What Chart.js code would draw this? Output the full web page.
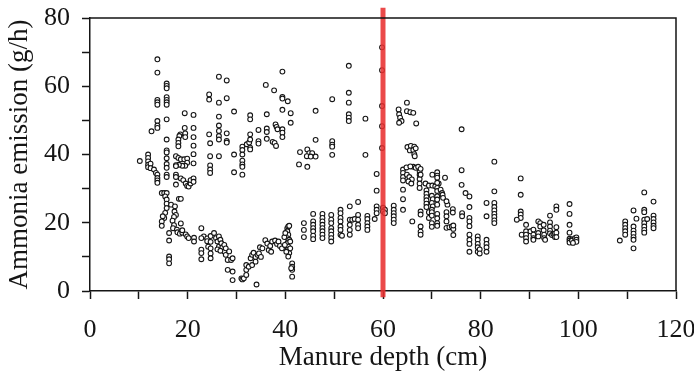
<!DOCTYPE html>
<html>
<head>
<meta charset="utf-8">
<script src="https://cdn.jsdelivr.net/npm/chart.js@4.4.1/dist/chart.umd.min.js"></script>
<style>
	html, body { margin: 0; padding: 0; background: #fff; }
</style>
</head>
<body>
<canvas id="emission-chart" width="694" height="376"></canvas>
<script>
// [manure depth (cm), ammonia emission (g/h)], grouped by depth
const under25cm = [
	[13.8,67.9],[13.8,64.0],[15.7,60.8],[15.7,60.1],[15.7,59.4],[13.8,56.0],[13.8,55.3],[13.8,54.6],
	[15.7,56.8],[15.7,56.0],[15.7,55.3],[15.7,54.6],[13.8,49.8],[15.7,50.3],[12.6,46.8],[13.8,48.5],
	[13.8,47.8],[15.7,44.4],[15.7,41.2],[15.7,40.6],[10.2,38.1],[11.9,40.0],[11.9,39.0],[11.9,38.0],
	[11.9,37.0],[11.9,36.3],[12.4,37.3],[12.4,36.0],[15.7,38.9],[15.7,37.2],[13.1,35.6],[13.5,34.6],
	[13.8,34.1],[13.8,33.1],[13.8,32.4],[13.8,31.7],[15.7,36.1],[15.7,34.1],[15.7,33.4],
	[14.7,28.7],[15.2,28.7],[15.7,28.7],[15.4,27.7],[15.7,26.8],[15.7,25.6],[15.7,24.3],[15.4,22.9],
	[15.2,21.4],[14.7,20.4],[14.7,19.1],[14.9,21.9],[16.6,25.3],[18.2,27.0],[18.6,27.0],[17.4,24.8],
	[17.3,23.3],[17.6,22.3],[17.2,21.7],[16.9,20.6],[17.2,19.3],[17.0,18.4],[16.2,17.0],[16.2,14.8],
	[17.8,18.0],[17.9,17.2],[18.4,16.8],[18.9,17.1],[19.6,16.6],[19.9,16.0],[20.2,15.5],[18.9,17.8],
	[18.6,19.8],[21.3,15.6],[21.3,14.5],[22.8,18.4],[23.3,16.0],[24.0,15.4],[24.0,14.6],[22.8,15.5],
	[22.8,12.1],[24.2,13.0],[24.7,16.1],[24.7,14.4],[24.7,12.5],[24.7,11.0],[24.7,9.6],[22.8,11.1],
	[22.8,9.3],[16.2,10.1],[16.2,9.3],[16.2,8.1],
	[19.4,52.1],[21.2,51.6],[19.4,47.8],[21.2,47.8],[18.5,45.9],[18.3,45.4],[18.1,44.4],[18.1,43.4],
	[18.1,42.4],[19.5,46.2],[19.5,45.1],[21.2,45.1],[21.2,42.6],[17.6,39.5],[18.1,39.0],[18.6,38.6],
	[19.3,38.6],[19.9,38.8],[19.9,37.6],[19.5,36.7],[18.9,36.7],[18.2,37.0],[17.6,36.9],[21.2,40.1],
	[21.2,37.4],[17.6,36.6],[17.6,34.1],[17.6,33.4],[17.6,31.2],[18.6,33.0],[19.1,32.5],[19.6,31.5],
	[19.9,30.8],[20.2,30.6],[20.6,31.5],[20.6,32.5],[21.2,33.0],[21.2,32.0],
	[24.4,57.6],[24.4,56.1],[24.4,45.9],[24.6,43.3],[24.6,39.5],[24.6,36.8],[24.6,35.6],[24.6,34.6]
]

const from25to47cm = [
	[26.4,62.8],[28.0,61.7],[26.4,55.2],[28.0,56.5],[29.5,52.6],[26.4,51.1],[26.4,48.5],[26.4,46.9],
	[26.4,45.4],[26.4,44.4],[28.0,46.2],[28.0,44.0],[28.0,43.5],[26.4,39.5],[29.5,40.0],[31.2,42.3],
	[31.2,41.3],[31.2,40.0],[31.2,38.2],[31.2,37.1],[31.2,36.4],[31.2,34.1],[32.1,43.0],[32.6,43.5],
	[32.8,51.5],[32.8,50.3],[32.8,45.9],[32.8,44.4],[32.8,42.0],[32.8,41.5],[34.5,47.2],[34.5,43.9],
	[34.5,43.2],[36.2,51.8],[36.2,47.6],[36.2,46.6],[36.2,44.6],[36.0,60.4],[37.7,58.8],[38.0,48.8],
	[38.2,48.1],[38.4,47.4],[37.4,43.7],[37.8,43.4],[38.1,42.5],[39.4,64.3],[39.4,56.9],[39.4,56.4],
	[40.5,55.6],[39.4,53.1],[41.1,52.1],[41.1,49.3],[39.4,47.4],[39.4,46.4],[39.4,45.1],[46.2,52.8],
	[46.2,44.3],[43.0,40.7],[44.5,41.5],[44.9,40.4],[44.4,39.5],[45.5,40.4],[45.2,39.4],[46.2,39.4],
	[42.8,37.1],[44.5,36.4],[29.5,34.8],
	[25.4,17.0],[25.8,15.5],[26.1,14.5],[26.4,16.0],[26.4,13.0],[26.7,15.0],[26.9,14.0],[27.1,12.8],
	[27.5,13.5],[27.5,11.6],[27.8,12.5],[27.8,10.6],[28.2,9.1],[28.2,6.2],[28.5,11.6],[28.9,9.1],
	[29.2,9.6],[29.2,5.7],[29.2,3.2],[26.1,12.2],[26.7,11.8],[31.0,3.7],[31.2,3.4],[31.5,3.7],
	[32.0,4.7],[32.0,6.2],[32.0,7.6],[32.5,7.1],[33.2,7.6],[34.1,1.9],[33.9,8.6],[32.9,9.6],
	[33.2,10.6],[33.5,11.2],[33.9,10.0],[34.3,10.6],[34.6,11.0],[34.8,12.8],[35.3,12.5],[35.9,14.9],
	[36.3,13.9],[36.6,12.0],[36.9,13.2],[37.1,11.5],[37.3,14.5],[37.9,14.8],[38.3,13.8],[38.6,14.5],
	[38.9,13.2],[39.3,12.5],[35.0,10.0],[40.4,18.4],[40.6,18.9],[40.8,19.1],[40.4,17.5],[40.6,16.5],
	[40.4,15.5],[40.8,15.0],[40.4,14.0],[40.6,13.0],[40.4,12.0],[40.8,11.1],[40.6,10.1],[41.0,12.5],
	[41.0,14.5],[41.4,8.1],[41.4,7.1],[41.4,6.2],[41.4,4.2],[41.2,6.7],[39.8,15.8],[40.0,17.0],
	[39.9,13.5],[40.2,11.5],[43.8,19.9],[43.8,17.9],[43.8,15.8],[45.7,22.6],[45.7,20.4],[45.7,19.4],
	[45.7,18.4],[45.7,17.5],[45.7,16.2],[45.7,15.2]
]

const from47to68cm = [
	[47.6,22.6],[47.6,21.4],[47.6,20.4],[47.6,19.4],[47.6,18.4],[47.6,17.5],[47.6,16.5],[47.6,15.5],
	[49.4,22.3],[49.4,20.9],[49.4,19.9],[49.4,18.4],[49.4,17.5],[49.4,16.5],[49.4,15.5],[49.4,14.5],
	[51.3,23.8],[51.3,22.8],[51.3,21.4],[51.3,20.4],[51.3,18.9],[51.3,17.9],[51.3,16.5],[51.6,16.2],
	[53.2,24.8],[53.2,20.9],[53.2,19.4],[53.2,17.9],[53.2,16.5],[53.7,20.9],[54.2,21.1],[54.9,26.1],
	[54.9,22.3],[54.9,20.9],[54.9,19.4],[54.9,18.4],[56.8,22.0],[56.8,21.1],[56.8,19.9],[56.8,18.9],
	[56.8,17.9],[58.3,21.1],[58.7,34.3],[58.7,29.4],[58.7,24.8],[58.7,23.8],[58.7,22.8],[60.0,24.4],
	[60.4,23.8],[60.0,23.3],[60.4,22.8],[62.2,25.0],[62.2,23.8],[62.2,22.8],[62.2,21.9],[62.2,20.9],
	[62.2,19.9],[64.1,35.6],[64.1,34.6],[64.1,33.4],[64.1,32.4],[64.1,29.7],[64.1,26.9],[64.1,23.8],
	[64.9,34.1],[65.4,33.4],[65.9,32.7],[65.2,32.1],[65.8,31.5],[66.2,36.4],[66.7,36.1],[67.2,36.4],
	[67.5,35.1],[67.5,34.1],[67.5,32.8],[67.5,31.5],[67.5,30.2],[66.0,20.4],
	[53.0,66.0],[59.8,71.4],[59.8,64.7],[53.0,58.1],[53.0,55.2],[49.6,56.2],[53.0,51.8],[53.0,50.8],
	[53.0,49.8],[56.4,50.5],[59.8,54.2],[59.8,48.3],[59.8,41.9],[64.9,55.2],[63.2,53.2],[63.3,51.8],
	[63.5,50.8],[63.8,49.8],[63.3,49.3],[64.9,52.7],[65.6,52.4],[66.2,52.2],[66.8,49.1],[49.6,43.9],
	[49.6,42.9],[49.6,42.3],[49.6,39.9],[56.4,39.9],[65.0,42.2],[65.7,42.5],[66.4,42.3],[65.5,41.2],
	[66.2,41.3],[66.7,41.8],[66.4,40.1],[66.5,39.5],[64.8,36.2],[65.6,36.5]
]

const from68to95cm = [
	[76.1,47.4],[82.8,37.9],[76.1,35.4],[88.2,33.0],[76.1,31.1],[67.7,35.8],[67.7,34.1],[70.1,34.1],
	[71.1,34.8],[71.1,33.8],[71.1,33.2],[71.4,31.5],[72.7,33.2],[68.7,31.5],[69.4,30.9],[70.1,30.9],
	[70.7,30.7],[68.9,29.5],[68.9,28.5],[68.9,27.5],[68.9,26.6],[68.9,25.6],[68.9,24.6],[69.4,23.1],
	[69.4,21.4],[67.7,23.3],[67.7,22.4],[67.7,18.9],[67.7,17.4],[67.7,16.5],[70.0,27.9],[70.2,26.9],
	[70.0,25.8],[70.2,24.8],[70.0,23.8],[70.0,23.1],[70.0,22.1],[70.0,19.9],[70.0,18.8],[71.1,31.7],
	[71.1,30.2],[71.1,29.3],[71.1,27.7],[71.1,26.8],[71.1,25.3],[71.1,22.6],[71.1,21.3],[71.1,19.9],
	[71.1,19.1],[71.8,29.7],[72.1,28.7],[72.2,28.2],[72.3,27.3],[73.0,23.1],[73.0,21.9],[73.0,20.4],
	[73.0,18.5],[73.2,25.3],[73.0,26.3],[73.6,18.7],[74.1,18.9],[74.4,18.2],[74.4,16.4],[74.4,19.2],
	[74.3,24.0],[74.3,23.0],[76.2,22.8],[76.2,21.9],[76.9,28.7],[77.7,27.7],[77.7,24.6],[77.7,21.4],
	[77.7,20.4],[77.7,19.0],[77.7,16.5],[77.7,15.0],[77.7,13.8],[77.7,11.5],[79.4,16.0],[79.4,15.0],
	[79.4,13.8],[79.4,12.8],[79.4,11.5],[79.8,12.2],[79.8,11.0],[81.2,25.8],[81.2,21.9],[81.2,15.0],
	[81.2,13.8],[81.2,12.8],[81.2,11.5],[82.8,29.2],[82.8,25.8],[82.8,24.6],[82.8,23.6],[82.8,22.6],
	[82.8,21.7],[82.8,20.7],[82.8,19.9],[88.2,28.2],[88.2,23.3],[88.2,22.4],[88.2,21.4],[87.4,20.9],
	[88.4,16.5],[89.3,19.4],[89.3,17.5],[89.3,16.5],[89.3,15.5],[89.3,14.5],[90.2,17.5],[90.8,18.0],
	[90.8,16.5],[90.8,15.5],[90.8,15.0],[91.8,20.4],[91.8,17.0],[91.8,16.0],[92.2,19.9],[92.2,18.9],
	[92.9,19.4],[92.9,17.8],[93.0,16.5],[93.0,15.5],[93.2,15.0],[94.2,22.1],[94.2,20.1],[94.2,18.9],
	[94.2,17.7],[94.2,16.9],[94.6,16.4],[94.9,16.7]
]

const over95cm = [
	[95.2,16.9],[95.2,15.8],[95.5,24.8],[95.5,23.8],[95.5,18.7],[95.5,17.1],[95.5,15.8],[98.2,25.5],
	[98.2,22.6],[98.2,19.4],[98.2,17.1],[98.2,15.3],[98.2,14.8],[98.2,14.2],[98.7,15.1],[98.7,14.8],
	[99.3,15.5],[99.6,15.7],[99.6,15.0],[99.6,14.4],[98.9,14.1],[108.5,14.8],[109.6,20.4],[109.6,19.4],
	[109.6,18.4],[109.6,17.5],[109.6,16.5],[111.3,18.9],[111.3,17.7],[111.3,16.8],[111.3,15.8],[111.3,15.0],
	[111.3,23.6],[111.9,21.2],[111.3,12.5],[113.5,28.9],[113.5,23.8],[113.5,23.1],[113.5,20.9],[113.5,19.9],
	[113.5,18.9],[113.5,17.9],[113.5,17.1],[114.1,21.1],[115.4,26.2],[115.4,22.1],[115.4,21.1],[115.4,20.1],
	[115.4,19.1],[115.4,18.4]
]

// red marker line at 60 cm, running a little past both ends of the y axis
const markerDepth = 60
const markerSpan = [-1.8, 83]

const depthRange = [0, 120]
const emissionRange = [0, 80]
const tickStep = 10
const labelStep = 20

const samples = [...under25cm, ...from25to47cm, ...from47to68cm, ...from68to95cm, ...over95cm]
	.map(([x, y]) => { return { x: x, y: y } })

const serif = '"Liberation Serif", "Times New Roman", serif'
const ink = '#151515'

const frame = {
	id: 'frame',
	afterDatasetsDraw: chart => {
		const { ctx, chartArea } = chart
		ctx.save()
		ctx.strokeStyle = ink
		ctx.lineWidth = 1.5
		ctx.beginPath()
		ctx.moveTo(chartArea.left, chartArea.top)
		ctx.lineTo(chartArea.right, chartArea.top)
		ctx.lineTo(chartArea.right, chartArea.bottom)
		ctx.stroke()
		ctx.restore()
	}
}

const axisOptions = (range, title, fit, titlePad, labelPad) => {
	return {
		type: 'linear',
		min: range[0],
		max: range[1],
		ticks: {
			stepSize: tickStep,
			autoSkip: false,
			maxRotation: 0,
			padding: labelPad,
			color: ink,
			font: { family: serif, size: 26 },
			callback: v => v % labelStep === 0 ? v : ''
		},
		grid: {
			drawOnChartArea: false,
			tickLength: 8,
			tickWidth: 1.5,
			tickColor: ink
		},
		border: { color: ink, width: 1.5 },
		title: {
			display: true,
			text: title,
			color: ink,
			font: { family: serif, size: 27 },
			padding: titlePad
		},
		afterFit: fit
	}
}

// fixed box sizes so the plot area lands where the figure has it
const fitX = s => {
	s.height = 85
	s.paddingLeft = 0
	s.paddingRight = 0
}
const fitY = s => {
	s.width = 90
	s.paddingTop = 0
	s.paddingBottom = 0
}

const ctx = document.getElementById('emission-chart')
new Chart(ctx, {
	type: 'scatter',
	data: {
		datasets: [{
			type: 'line',
			data: markerSpan.map(y => { return { x: markerDepth, y: y } }),
			borderColor: 'rgba(232, 48, 48, 0.88)',
			borderWidth: 5,
			pointRadius: 0,
			clip: false,
			order: 0
		},
		{
			data: samples,
			pointRadius: 2.4,
			borderWidth: 1.1,
			borderColor: ink,
			backgroundColor: '#fff',
			order: 1
		}]
	},
	options: {
		responsive: false,
		animation: false,
		devicePixelRatio: 1,
		layout: { padding: { top: 18, right: 18, left: 0, bottom: 0 } },
		plugins: {
			legend: { display: false },
			tooltip: { enabled: false }
		},
		scales: {
			x: axisOptions(depthRange, 'Manure depth (cm)', fitX, { top: 0, bottom: 2 }, 16),
			y: axisOptions(emissionRange, 'Ammonia emission (g/h)', fitY, { top: 4, bottom: 0 }, 12)
		}
	},
	plugins: [frame]
})
</script>
</body>
</html>
